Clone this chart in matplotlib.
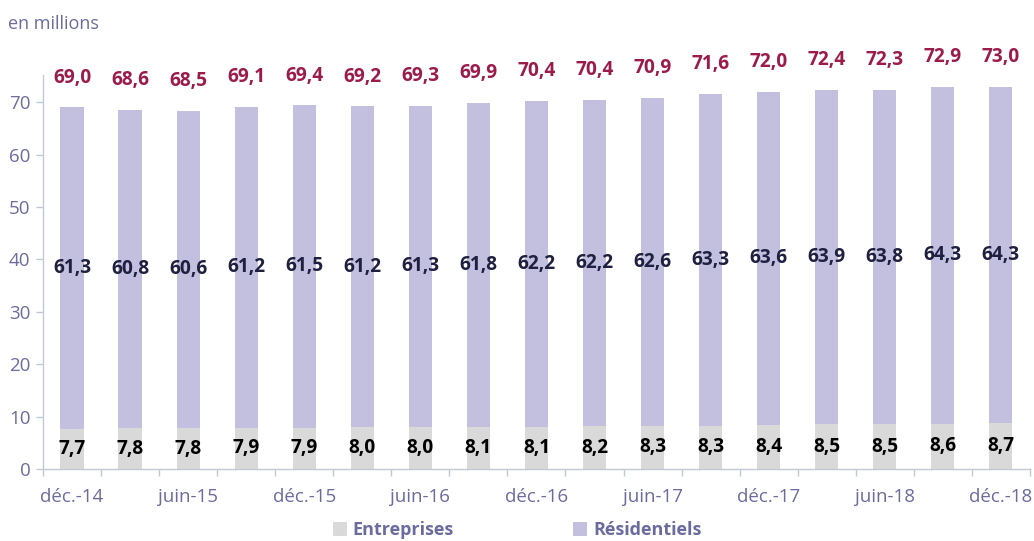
import matplotlib
matplotlib.use("Agg")
import matplotlib.pyplot as plt
import numpy as np

categories = ["déc.-14", "mars-15", "juin-15", "sept.-15", "déc.-15", "mars-16", "juin-16",
              "sept.-16", "déc.-16", "mars-17", "juin-17", "sept.-17", "déc.-17", "mars-18",
              "juin-18", "sept.-18", "déc.-18"]
entreprises = [7.7, 7.8, 7.8, 7.9, 7.9, 8.0, 8.0, 8.1, 8.1, 8.2, 8.3, 8.3, 8.4, 8.5, 8.5, 8.6, 8.7]
residentiels = [61.3, 60.8, 60.6, 61.2, 61.5, 61.2, 61.3, 61.8, 62.2, 62.2, 62.6, 63.3, 63.6,
                63.9, 63.8, 64.3, 64.3]
totaux = [69.0, 68.6, 68.5, 69.1, 69.4, 69.2, 69.3, 69.9, 70.4, 70.4, 70.9, 71.6, 72.0,
          72.4, 72.3, 72.9, 73.0]

plt.rcParams['font.family'] = ['Open Sans', 'DejaVu Sans']

C_ENT = '#D9D9D9'
C_RES = '#C3BFDF'
C_TOT = '#9B1B4B'
C_MID = '#1F1F40'
C_TXT = '#6B6B9E'
C_AX = '#BFC9D4'

def fmt(v):
    return f"{v:.1f}".replace('.', ',')

fig = plt.figure(figsize=(10.34, 5.41), dpi=100)
ax = fig.add_axes([0.0416, 0.1331, 0.9544, 0.7283])

x = np.arange(len(categories))
w = 0.4
ax.bar(x, entreprises, width=w, color=C_ENT, label='Entreprises', zorder=2)
ax.bar(x, residentiels, width=w, bottom=entreprises, color=C_RES, label='Résidentiels', zorder=2)

LS = 13.8
for i in range(len(categories)):
    e, r, t = entreprises[i], residentiels[i], totaux[i]
    ax.text(x[i], e / 2, fmt(e), ha='center', va='center', fontsize=LS, fontweight='bold',
            color='black', zorder=3)
    ax.text(x[i], e + r / 2, fmt(r), ha='center', va='center', fontsize=LS, fontweight='bold',
            color=C_MID, zorder=3)
    ax.annotate(fmt(t), xy=(x[i], e + r), xytext=(0, 21.5), textcoords='offset points',
                ha='center', va='center', fontsize=LS, fontweight='bold', color=C_TOT,
                annotation_clip=False)

ax.set_xlim(-0.5, len(categories) - 0.5)
ax.set_ylim(0, 75.2)
ax.set_yticks(np.arange(0, 71, 10))
ax.tick_params(axis='y', colors=C_AX, labelcolor=C_TXT, labelsize=13.5, length=5, width=1, pad=4)

ax.set_xticks(x[::2])
ax.set_xticklabels(categories[::2])
ax.tick_params(axis='x', which='major', length=0, labelcolor=C_TXT, labelsize=13.5, pad=14)
ax.set_xticks(np.arange(-0.5, len(categories), 1.0), minor=True)
ax.tick_params(axis='x', which='minor', length=5, width=1, colors=C_AX)

for s in ['top', 'right']:
    ax.spines[s].set_visible(False)
for s in ['left', 'bottom']:
    ax.spines[s].set_color(C_AX)
    ax.spines[s].set_linewidth(1)

fig.text(0.008, 0.955, "en millions", fontsize=13, color=C_TXT, ha='left', va='center')

leg = fig.legend(loc='center', bbox_to_anchor=(0.5, 0.02), ncol=2, frameon=False,
                 handlelength=0.8, handleheight=0.8, handletextpad=0.3, columnspacing=6.6,
                 prop={'size': 13, 'weight': 'bold'})
for t in leg.get_texts():
    t.set_color(C_TXT)

fig.savefig("out.png", dpi=100)
